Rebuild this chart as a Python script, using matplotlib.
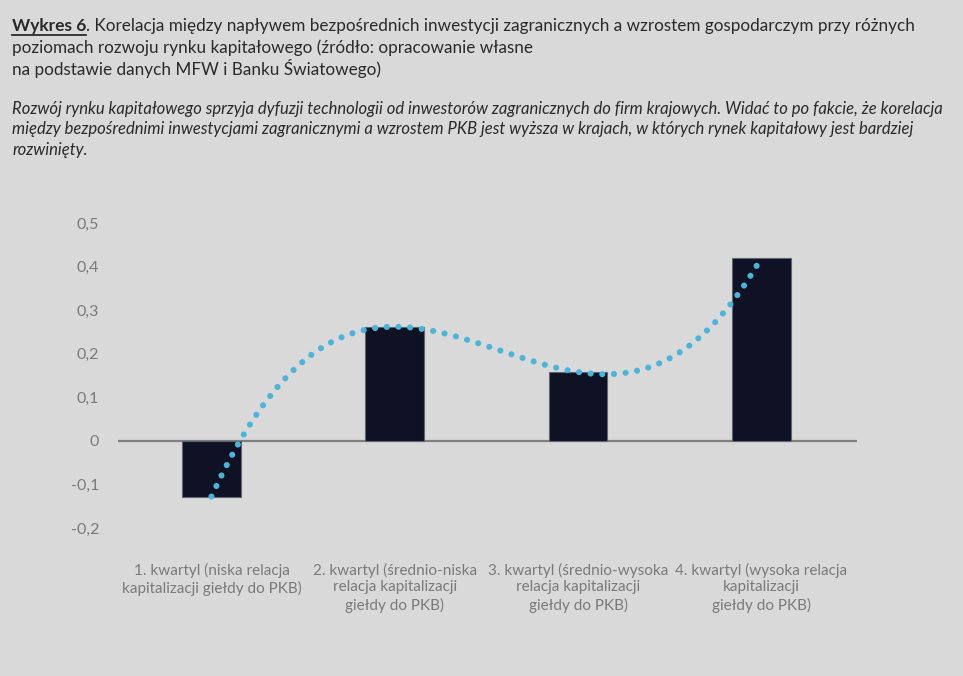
import matplotlib
matplotlib.use('Agg')
import matplotlib.pyplot as plt
import numpy as np
from matplotlib.lines import Line2D

plt.rcParams['font.family'] = ['Lato', 'DejaVu Sans']

categories = ['1. kwartyl (niska relacja\nkapitalizacji giełdy do PKB)',
              '2. kwartyl (średnio-niska\nrelacja kapitalizacji\ngiełdy do PKB)',
              '3. kwartyl (średnio-wysoka\nrelacja kapitalizacji\ngiełdy do PKB)',
              '4. kwartyl (wysoka relacja\nkapitalizacji\ngiełdy do PKB)']
values = [-0.128, 0.262, 0.158, 0.42]
yticks = [-0.2, -0.1, 0, 0.1, 0.2, 0.3, 0.4, 0.5]
ytick_labels = ['-0,2', '-0,1', '0', '0,1', '0,2', '0,3', '0,4', '0,5']

bg = '#d9d9d9'
bar_color = '#0e1224'
dot_color = '#4bb4da'
grey = '#7a7a7a'
dark = '#2a2a2a'

fig = plt.figure(figsize=(9.63, 6.76), dpi=100, facecolor=bg)
ax = fig.add_axes([0.1225, 0.219, 0.767, 0.451])
ax.set_facecolor(bg)

x = np.arange(len(values))
ax.bar(x, values, width=0.32, color=bar_color, edgecolor='#60646e', linewidth=0.8, zorder=2)

# polynomial (3rd order) trend line, like Excel
coef = np.polyfit(x, values, 3)
xs = np.linspace(0, 3, 300)
ax.plot(xs, np.polyval(coef, xs), color=dot_color, linewidth=4.4,
        linestyle=(0, (0.01, 1.9)), dash_capstyle='round', zorder=3)

ax.axhline(0, color='#808080', linewidth=1.6, zorder=1)
ax.set_xlim(-0.51, 3.52)
ax.set_ylim(-0.2, 0.5)
ax.set_yticks(yticks)
ax.set_yticklabels(ytick_labels)
ax.set_xticks(x)
ax.set_xticklabels(categories, linespacing=1.25)
for s in ax.spines.values():
    s.set_visible(False)
ax.tick_params(axis='y', length=0, colors=grey, labelsize=11.5, pad=13.5)
ax.tick_params(axis='x', length=0, colors=grey, labelsize=11.0, pad=25)

# heading
top = 1 - 18 / 676
t1 = fig.text(0.0125, top, 'Wykres 6', fontsize=12.5, fontweight='bold',
              color=dark, va='top')
fig.canvas.draw()
r = fig.canvas.get_renderer()
bb = t1.get_window_extent(r)
x_end = bb.x1 / fig.bbox.width
fig.text(x_end, top,
         '. Korelacja między napływem bezpośrednich inwestycji zagranicznych a wzrostem gospodarczym przy różnych',
         fontsize=12.3, color=dark, va='top')
fig.add_artist(Line2D([bb.x0 / fig.bbox.width, x_end], [bb.y0 / fig.bbox.height - 0.002] * 2,
                      color=dark, linewidth=1.3, transform=fig.transFigure))
fig.text(0.0125, 1 - 39 / 676,
         'poziomach rozwoju rynku kapitałowego (źródło: opracowanie własne\nna podstawie danych MFW i Banku Światowego)',
         fontsize=12.3, color=dark, va='top', linespacing=1.2)

fig.text(0.0125, 1 - 101 / 676,
         'Rozwój rynku kapitałowego sprzyja dyfuzji technologii od inwestorów zagranicznych do firm krajowych. '
         'Widać to po fakcie, że korelacja\nmiędzy bezpośrednimi inwestycjami zagranicznymi a wzrostem PKB jest '
         'wyższa w krajach, w których rynek kapitałowy jest bardziej\nrozwinięty.',
         fontsize=12.0, style='italic', color=dark, va='top', linespacing=1.33)

fig.savefig('out.png', dpi=100, facecolor=bg)
